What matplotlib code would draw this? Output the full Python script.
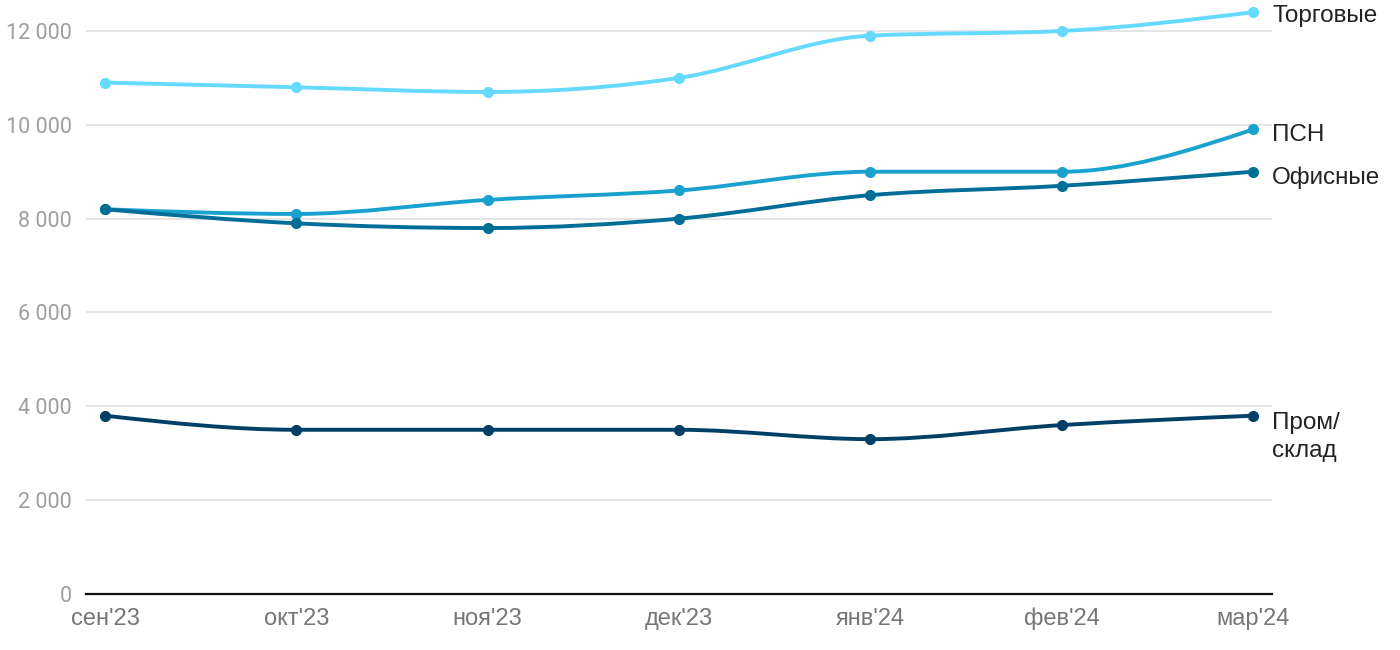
import numpy as np
import matplotlib.pyplot as plt
from matplotlib.path import Path
from matplotlib.patches import PathPatch

plt.rcParams['font.family'] = ['Roboto', 'DejaVu Sans']

months = ["сен'23", "окт'23", "ноя'23", "дек'23", "янв'24", "фев'24", "мар'24"]
trade = [10900, 10800, 10700, 11000, 11900, 12000, 12400]
psn = [8200, 8100, 8400, 8600, 9000, 9000, 9900]
office = [8200, 7900, 7800, 8000, 8500, 8700, 9000]
industrial = [3800, 3500, 3500, 3500, 3300, 3600, 3800]

series = [
    ('Торговые', trade, '#66d9ff'),
    ('ПСН', psn, '#1aa2cf'),
    ('Офисные', office, '#006e96'),
    ('Пром/\nсклад', industrial, '#003f66'),
]


def monotone_tangents(x, y):
    x = np.asarray(x, float)
    y = np.asarray(y, float)
    n = len(x)
    m = np.zeros(n)
    for i in range(1, n - 1):
        h0, h1 = x[i] - x[i - 1], x[i + 1] - x[i]
        s0, s1 = (y[i] - y[i - 1]) / h0, (y[i + 1] - y[i]) / h1
        p = (s0 * h1 + s1 * h0) / (h0 + h1)
        m[i] = (np.sign(s0) + np.sign(s1)) * min(abs(s0), abs(s1), 0.5 * abs(p))
    h = x[1] - x[0]
    m[0] = (3 * (y[1] - y[0]) / h - m[1]) / 2
    h = x[-1] - x[-2]
    m[-1] = (3 * (y[-1] - y[-2]) / h - m[-2]) / 2
    return m


def smooth_path(x, y):
    m = monotone_tangents(x, y)
    verts = [(x[0], y[0])]
    codes = [Path.MOVETO]
    for i in range(len(x) - 1):
        h = (x[i + 1] - x[i]) / 3
        verts += [(x[i] + h, y[i] + m[i] * h),
                  (x[i + 1] - h, y[i + 1] - m[i + 1] * h),
                  (x[i + 1], y[i + 1])]
        codes += [Path.CURVE4] * 3
    return Path(verts, codes)


fig = plt.figure(figsize=(14, 6.5), dpi=100)
ax = fig.add_axes([86 / 1400, 56 / 650, (1272 - 86) / 1400, 594 / 650])

x = np.arange(len(months))
for name, vals, color in series:
    ax.add_patch(PathPatch(smooth_path(x, vals), facecolor='none', edgecolor=color,
                           lw=2.8, capstyle='round', zorder=3))
    ax.plot(x, vals, 'o', color=color, ms=7, zorder=4)

label_off = {'Торговые': -3, 'ПСН': -4, 'Офисные': -4, 'Пром/\nсклад': -15}
for name, vals, color in series:
    ax.annotate(name, (x[-1], vals[-1]), xytext=(14, label_off[name]),
                textcoords='offset points', va='center', ha='left',
                fontsize=17.5, color='#222222', annotation_clip=False,
                linespacing=1.35, family=['Liberation Sans', 'DejaVu Sans'])

ax.set_xlim(-0.1, 6.1)
ax.set_ylim(0, 12660)
ax.set_yticks(range(0, 12001, 2000))
ax.set_yticklabels([f'{v:,}'.replace(',', ' ') for v in range(0, 12001, 2000)])
ax.set_xticks(x)
ax.set_xticklabels(months, family=['Liberation Sans', 'DejaVu Sans'], fontsize=17)

ax.grid(axis='y', color='#e3e3e3', lw=1.3)
ax.set_axisbelow(True)
for s in ['top', 'right', 'left']:
    ax.spines[s].set_visible(False)
ax.spines['bottom'].set_color('#111111')
ax.spines['bottom'].set_linewidth(1.6)
ax.tick_params(axis='both', length=0)
ax.tick_params(axis='y', pad=10, labelcolor='#9e9e9e', labelsize=15.5)
ax.tick_params(axis='x', pad=10, labelcolor='#767676')

fig.savefig('out.png', dpi=100)
